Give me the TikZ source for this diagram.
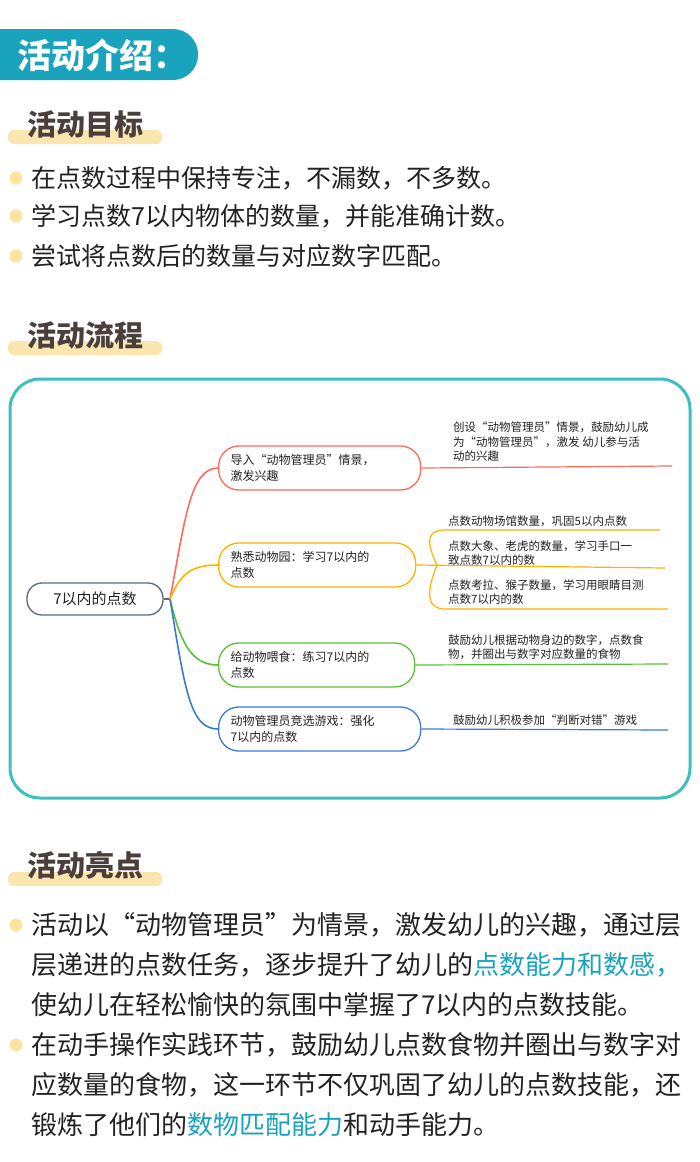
\documentclass[tikz,border=0pt]{standalone}
\usepackage{fontspec}
\setmainfont{Noto Sans CJK SC}
\definecolor{teal1}{HTML}{1AA3BC}
\definecolor{frame}{HTML}{3DBFBF}
\definecolor{hdr}{HTML}{4A3F3A}
\definecolor{hl}{HTML}{FBE6B0}
\definecolor{dot}{HTML}{FCE3A0}
\definecolor{txt}{HTML}{222222}
\definecolor{cR}{HTML}{FF6B5B}
\definecolor{cO}{HTML}{FFB000}
\definecolor{cG}{HTML}{5BBF3A}
\definecolor{cB}{HTML}{3A7BD5}
\definecolor{rootc}{HTML}{5A6A80}
\tikzset{
 hdrtext/.style={font=\fontsize{29}{32}\selectfont\bfseries, text=hdr, anchor=west, inner sep=0},
 body/.style={font=\fontsize{25}{28}\selectfont, text=txt, anchor=west, inner sep=0},
 bodyb/.style={font=\fontsize{26}{28}\selectfont, text=txt, anchor=west, inner sep=0},
 bul/.style={circle, fill=dot, minimum size=13pt, inner sep=0},
 branch/.style={draw, rounded corners=20pt, line width=1.3pt, minimum height=44pt, text width=178pt, align=left, font=\fontsize{12}{16}\selectfont, text=txt, anchor=west, inner xsep=12pt},
 leaf/.style={font=\fontsize{11.5}{14.5}\selectfont, text=txt, anchor=south west, align=left, inner sep=1pt},
 conn/.style={line width=1.6pt}
}
\begin{document}
\begin{tikzpicture}[x=1pt,y=-1pt]
\useasboundingbox (0,0) rectangle (700,1162);
\fill[white] (0,0) rectangle (700,1162);
% title banner
\fill[teal1, rounded corners=25pt] (-40,29) rectangle (198,80);
\node[font=\fontsize{34}{38}\selectfont\bfseries, text=white, anchor=west, inner sep=0] (title) at (17,55) {活动介绍：};
% section 1
\fill[hl, rounded corners=6pt] (8,130) rectangle (162,144);
\node[hdrtext] (h1) at (27,124) {活动目标};
\node[bul] (b1) at (16,178) {}; \node[body] (t1) at (31,178) {在点数过程中保持专注，不漏数，不多数。};
\node[bul] (b2) at (16,216) {}; \node[body] (t2) at (31,216) {学习点数7以内物体的数量，并能准确计数。};
\node[bul] (b3) at (16,256) {}; \node[body] (t3) at (31,256) {尝试将点数后的数量与对应数字匹配。};
% section 2
\fill[hl, rounded corners=6pt] (8,341) rectangle (162,355);
\node[hdrtext] (h2) at (27,335) {活动流程};
\draw[frame, line width=3pt, rounded corners=30pt] (10,379) rectangle (690,798);
% mind map
\node[draw=rootc, line width=1.3pt, rounded corners=15pt, minimum width=136pt, minimum height=32pt, font=\fontsize{15}{18}\selectfont, text=txt] (root) at (95,599) {7以内的点数};
\coordinate (hub) at (170,599);
\node[branch, draw=cR] (n1) at (218,468) {导入“动物管理员”情景，\\激发兴趣};
\node[branch, draw=cO, text width=173pt] (n2) at (218,565) {熟悉动物园：学习7以内的\\点数};
\node[branch, draw=cG, text width=172pt] (n3) at (218,665) {给动物喂食：练习7以内的\\点数};
\node[branch, draw=cB] (n4) at (218,729) {动物管理员竞选游戏：强化\\7以内的点数};
\draw[conn, rootc] (root.east) -- (hub);
\draw[conn, cR] (hub) .. controls (185,520) and (190,468) .. (n1.west);
\draw[conn, cO] (hub) .. controls (180,575) and (190,565) .. (n2.west);
\draw[conn, cG] (hub) .. controls (180,640) and (190,665) .. (n3.west);
\draw[conn, cB] (hub) .. controls (185,690) and (190,729) .. (n4.west);
% leaves
\coordinate (e1) at (672,466);
\draw[conn, cR, line width=1.2pt] (n1.east) -- (e1);
\node[leaf] (l1) at (452,463) {创设“动物管理员”情景，鼓励幼儿成\\为“动物管理员”，激发 幼儿参与活\\动的兴趣};
\coordinate (s2) at (437,565);
\coordinate (e21) at (660,530); \coordinate (e22) at (665,568); \coordinate (e23) at (668,609);
\draw[cO, line width=1.2pt] (n2.east) -- (e22);
\draw[cO, line width=1.2pt] (s2) .. controls (425,540) and (428,530) .. (445,530) -- (e21);
\draw[cO, line width=1.2pt] (s2) .. controls (425,595) and (428,609) .. (445,609) -- (e23);
\node[leaf] (l21) at (447,528) {点数动物场馆数量，巩固5以内点数};
\node[leaf] (l22) at (447,567) {点数大象、老虎的数量，学习手口一\\致点数7以内的数};
\node[leaf] (l23) at (447,606) {点数考拉、猴子数量，学习用眼睛目测\\点数7以内的数};
\coordinate (e3) at (668,664);
\draw[cG, line width=1.2pt] (n3.east) -- (e3);
\node[leaf] (l3) at (447,661) {鼓励幼儿根据动物身边的数字，点数食\\物，并圈出与数字对应数量的食物};
\coordinate (e4) at (668,730);
\draw[cB, line width=1.2pt] (n4.east) -- (e4);
\node[leaf] (l4) at (452,727) {鼓励幼儿积极参加“判断对错”游戏};
% section 3
\fill[hl, rounded corners=6pt] (8,872) rectangle (162,886);
\node[hdrtext] (h3) at (27,865) {活动亮点};
\node[bul] (b4) at (16,925) {};
\node[bodyb] (t41) at (31,925) {活动以“动物管理员”为情景，激发幼儿的兴趣，通过层};
\node[bodyb] (t42) at (31,965) {层递进的点数任务，逐步提升了幼儿的\textcolor{teal1}{点数能力和数感，}};
\node[bodyb] (t43) at (31,1005) {使幼儿在轻松愉快的氛围中掌握了7以内的点数技能。};
\node[bul] (b5) at (16,1045) {};
\node[bodyb] (t51) at (31,1045) {在动手操作实践环节，鼓励幼儿点数食物并圈出与数字对};
\node[bodyb] (t52) at (31,1085) {应数量的食物，这一环节不仅巩固了幼儿的点数技能，还};
\node[bodyb] (t53) at (31,1125) {锻炼了他们的\textcolor{teal1}{数物匹配能力}和动手能力。};
\end{tikzpicture}
\end{document}
